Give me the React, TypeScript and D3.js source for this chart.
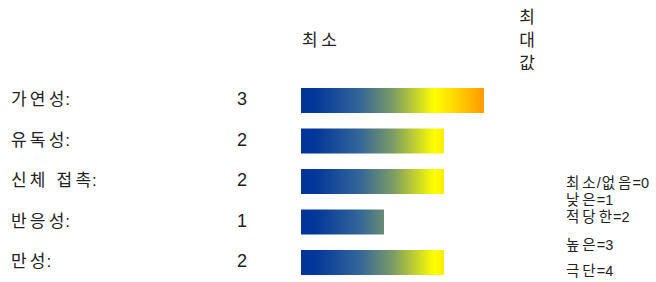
import React from "react";
import * as d3 from "d3";

const categories = ["가연성:", "유독성:", "신체 접촉:", "반응성:", "만성:"];
const values = [3, 2, 2, 1, 2];
const levelTicks = [0, 1, 2, 3, 4];
const legendLabels = ["최소/없음=0", "낮은=1", "적당한=2", "높은=3", "극단=4"];
const minLabel = "최소";
const maxLabel = ["최", "대", "값"];

const W = 656;
const H = 282;
const FONT = "'Liberation Sans', Arial, 'Noto Sans CJK KR', sans-serif";

const isWide = (ch: string) => /[\uac00-\ud7a3 ]/.test(ch);

// per-glyph dx list: extra spacing between Korean glyphs, small gap before punctuation
function dxList(s: string, ls: number, gap: number): string {
  const chars = Array.from(s);
  return chars
    .map((ch, i) => {
      if (i === 0) return 0;
      const p = isWide(chars[i - 1]);
      const c = isWide(ch);
      if (p && c) return ls;
      if (p || c) return gap;
      return 0;
    })
    .join(" ");
}

function SpacedText({ x, y, s, size, ls, gap = 0 }: { x: number; y: number; s: string; size: number; ls: number; gap?: number }) {
  return (
    <text x={x} y={y} dx={dxList(s, ls, gap)} fontSize={size} fill="#222">
      {s}
    </text>
  );
}

export default function App() {
  const x = d3.scaleLinear().domain(levelTicks).range([301, 384, 444, 484, 524]);
  const y = d3.scalePoint<string>().domain(categories).range([100.5, 262.5]);
  const barH = 25;
  const legendY = [183, 200, 217, 245, 271];

  return (
    <svg
      width={W}
      height={H}
      style={{ position: "absolute", left: 0, top: 0, background: "#fff" }}
      fontFamily={FONT}
    >
      <defs>
        <linearGradient id="hz" gradientUnits="userSpaceOnUse" x1={x(0)} x2={x(3)} y1={0} y2={0}>
          <stop offset="0" stopColor="#003399" />
          <stop offset="0.08" stopColor="#033799" />
          <stop offset="0.32" stopColor="#336699" />
          <stop offset="0.5" stopColor="#7a9a66" />
          <stop offset="0.73" stopColor="#ffff00" />
          <stop offset="0.78" stopColor="#ffee00" />
          <stop offset="1" stopColor="#ff9900" />
        </linearGradient>
      </defs>
      <SpacedText x={x(0) + 1} y={46} s={minLabel} size={17} ls={3.5} />
      {maxLabel.map((c, i) => (
        <text key={i} x={x(4) + 3} y={23 + i * 23} textAnchor="middle" fontSize={17} fill="#222">{c}</text>
      ))}
      {categories.map((c, i) => {
        const cy = y(c)!;
        return (
          <g key={c}>
            <SpacedText x={11} y={cy + 4.5} s={c} size={17} ls={3.2} gap={1} />
            <text x={242} y={cy + 4.5} textAnchor="middle" fontSize={18} fill="#222">{values[i]}</text>
            <rect x={x(0)} y={cy - barH / 2} width={x(values[i]) - x(0)} height={barH} fill="url(#hz)" />
          </g>
        );
      })}
      {legendLabels.map((l, i) => (
        <SpacedText key={l} x={566} y={legendY[i] + 5} s={l} size={14.5} ls={3} gap={1} />
      ))}
    </svg>
  );
}
